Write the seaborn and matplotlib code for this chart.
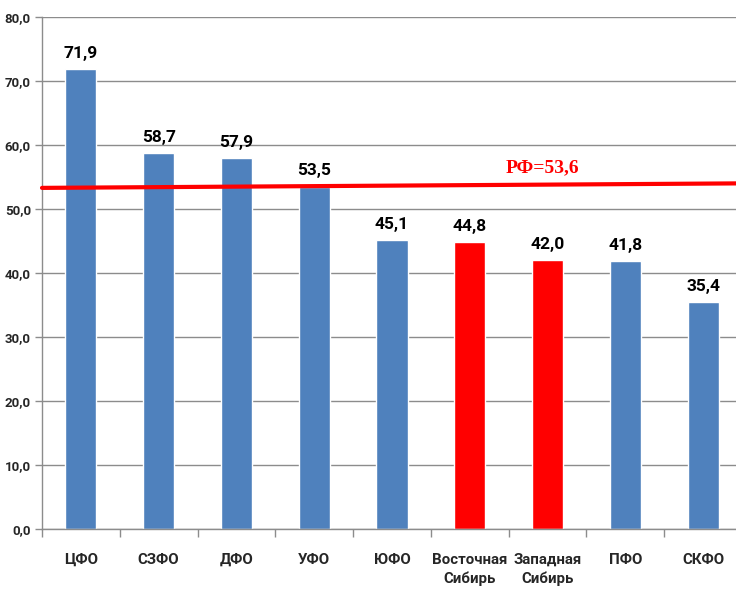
import matplotlib
matplotlib.use("Agg")
import matplotlib.pyplot as plt
import seaborn as sns
import pandas as pd

categories = ["ЦФО", "СЗФО", "ДФО", "УФО", "ЮФО", "Восточная\nСибирь", "Западная\nСибирь", "ПФО", "СКФО"]
values = [71.9, 58.7, 57.9, 53.5, 45.1, 44.8, 42.0, 41.8, 35.4]
highlight = [False, False, False, False, False, True, True, False, False]
rf_line_ends = [53.3, 54.0]
rf_label = "РФ=53,6"
yticks = [0, 10, 20, 30, 40, 50, 60, 70, 80]

sns.set_theme(style="white")
plt.rcParams["font.family"] = ["Roboto", "DejaVu Sans"]

blue = "#4F81BD"
red = "#FF0000"
df = pd.DataFrame({"cat": categories, "val": values,
                   "grp": ["r" if h else "b" for h in highlight]})

fig = plt.figure(figsize=(7.36, 5.95), dpi=100)
ax = fig.add_axes([42/736, 1 - 529/595, 700/736, 512/595])

sns.barplot(data=df, x="cat", y="val", hue="grp", palette={"b": blue, "r": red},
            dodge=False, width=0.4, legend=False, ax=ax, saturation=1)

ax.set_ylim(0, 80)
ax.set_xlim(-0.5, 8.5)
ax.set_yticks(yticks)
ax.set_yticklabels([f"{v:.1f}".replace(".", ",") for v in yticks],
                   fontsize=9.5, fontweight="bold")
ax.yaxis.grid(True, color="#8c8c8c", linewidth=1)
ax.set_axisbelow(True)
ax.set_xlabel("")
ax.set_ylabel("")

ax.set_xticks(range(len(categories)))
ax.set_xticklabels(categories, fontsize=10.8, fontweight="bold", linespacing=1.45)
ax.tick_params(axis="x", length=0, pad=17)
ax.tick_params(axis="y", length=5, width=1, color="#8c8c8c", direction="out", left=True, pad=3)
ax.set_xticks([i - 0.5 for i in range(len(categories) + 1)], minor=True)
ax.tick_params(axis="x", which="minor", length=6, width=1, color="#8c8c8c", direction="out", bottom=True)

for s in ["top", "right"]:
    ax.spines[s].set_visible(False)
for s in ["left", "bottom"]:
    ax.spines[s].set_color("#8c8c8c")
    ax.spines[s].set_linewidth(1)

for i, v in enumerate(values):
    ax.text(i, v + 1.3, f"{v:.1f}".replace(".", ","), ha="center", va="bottom",
            fontsize=12.5, fontweight="bold", color="black")

ax.plot([-0.5, 8.43], rf_line_ends, color=red, linewidth=3, clip_on=False, zorder=5)
ax.text(5.94, 56.4, rf_label, ha="center", va="center", color=red, fontsize=14,
        fontweight="bold", family=["Liberation Serif", "DejaVu Serif"])

fig.savefig("out.png", dpi=100)
